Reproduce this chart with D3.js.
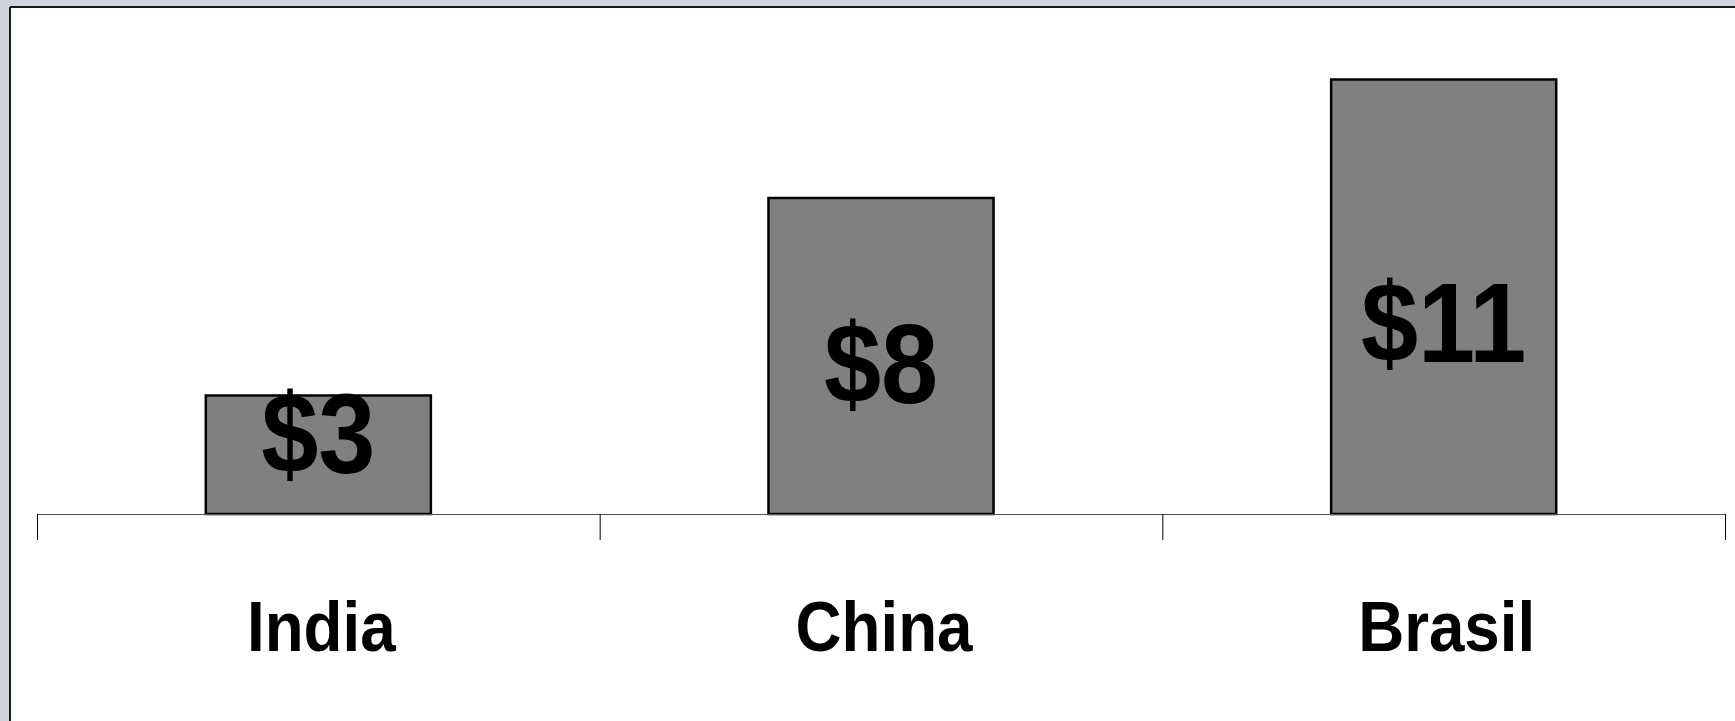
<!DOCTYPE html>
<html>
<head>
<meta charset="utf-8">
<script src="https://cdn.jsdelivr.net/npm/d3@7"></script>
<style>
  html, body { margin: 0; padding: 0; background: #d1d4dd; }
  svg { display: block; }
  text { font-family: "Liberation Sans", Arial, Helvetica, sans-serif; font-weight: bold; fill: #000; }
</style>
</head>
<body>
<svg id="chart" width="1735" height="721"></svg>
<script>
// Data
const categories = ["India", "China", "Brasil"];
const values = [3, 8, 11];
const valueLabels = ["$3", "$8", "$11"];
const yMax = 12;

const W = 1735, H = 721;
const svg = d3.select("#chart");

// Slide panel with dark top/left edges
svg.append("rect").attr("x", 10).attr("y", 7).attr("width", W).attr("height", H).attr("fill", "#fff");
svg.append("line").attr("x1", 10).attr("y1", 7).attr("x2", W).attr("y2", 7)
  .attr("stroke", "#1a1a1a").attr("stroke-width", 2);
svg.append("line").attr("x1", 10).attr("y1", 7).attr("x2", 10).attr("y2", H)
  .attr("stroke", "#1a1a1a").attr("stroke-width", 2);

// Scales
const x0 = 37, x1 = 1725, baseY = 514, topY = 40;
const xCat = d3.scaleBand().domain(categories).range([x0, x1]).padding(0);
const xBar = d3.scaleBand().domain(categories).range([x0, x1]).paddingInner(0.6).paddingOuter(0.3);
const y = d3.scaleLinear().domain([0, yMax]).range([baseY, topY]);

// Bars
svg.append("g").selectAll("rect")
  .data(categories)
  .join("rect")
  .attr("x", d => xBar(d))
  .attr("width", xBar.bandwidth())
  .attr("y", (d, i) => y(values[i]))
  .attr("height", (d, i) => baseY - y(values[i]))
  .attr("fill", "#808080")
  .attr("stroke", "#000")
  .attr("stroke-width", 2.5);

// Category axis: baseline and tick marks at band edges
const axis = svg.append("g");
axis.append("line")
  .attr("x1", x0).attr("x2", x1).attr("y1", baseY + 0.5).attr("y2", baseY + 0.5)
  .attr("stroke", "#555").attr("stroke-width", 1.2);
const edges = categories.map(c => xCat(c)).concat([x1]);
axis.selectAll("line.tick")
  .data(edges)
  .join("line")
  .attr("class", "tick")
  .attr("x1", d => d + 0.5).attr("x2", d => d + 0.5)
  .attr("y1", baseY).attr("y2", 540)
  .attr("stroke", "#000").attr("stroke-width", 1);

// Category labels
svg.append("g").selectAll("text")
  .data(categories)
  .join("text")
  .attr("text-anchor", "middle")
  .attr("font-size", 70)
  .attr("transform", d => `translate(${xCat(d) + xCat.bandwidth() / 2 + 3},651) scale(0.91,1)`)
  .text(d => d);

// Value labels inside bars
svg.append("g").selectAll("text")
  .data(categories)
  .join("text")
  .attr("text-anchor", "middle")
  .attr("font-size", 114)
  .attr("transform", (d, i) => `translate(${xBar(d) + xBar.bandwidth() / 2},${y(values[i] * 0.35)}) scale(0.9,1)`)
  .text((d, i) => valueLabels[i]);
</script>
</body>
</html>
